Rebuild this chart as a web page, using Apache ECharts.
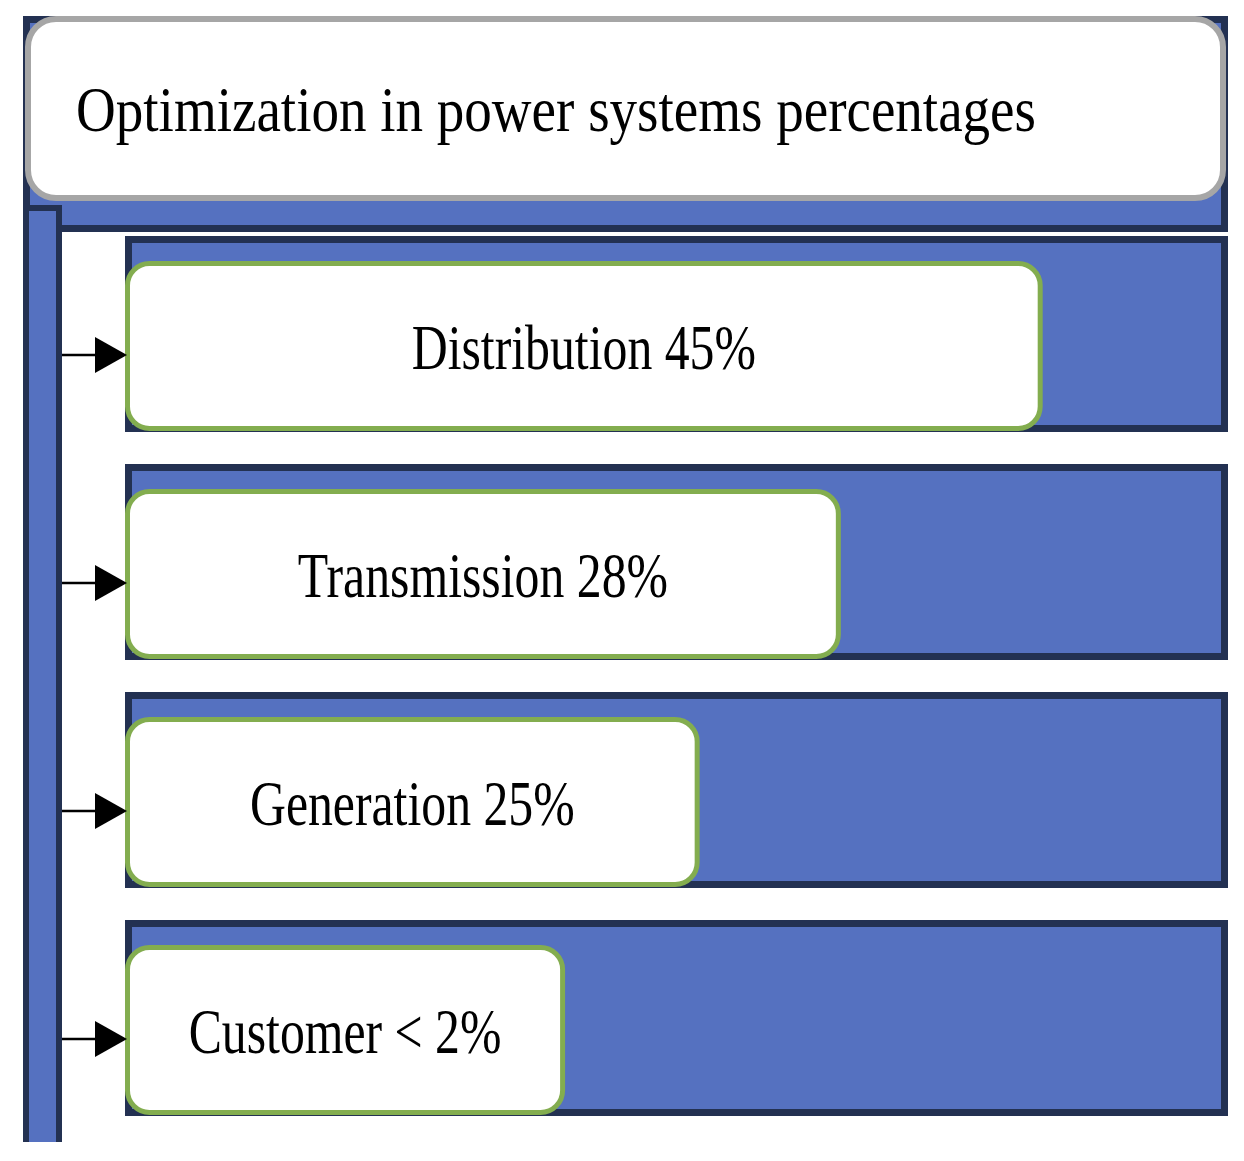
<!DOCTYPE html>
<html>
<head>
<meta charset="utf-8">
<script src="https://cdn.jsdelivr.net/npm/echarts@6/dist/echarts.min.js"></script>
<style>
  html, body { margin: 0; padding: 0; background: #fff; }
  #main { width: 1244px; height: 1161px; }
</style>
</head>
<body>
<div id="main"></div>
<script>
// rows of the diagram, top to bottom
const categories = ['Distribution', 'Transmission', 'Generation', 'Customer'];
const shareLabels = ['45%', '28%', '25%', '< 2%'];
// how far each white label box reaches across the blue bar (0-100 of the bar)
const boxLength = [83.2, 64.9, 52.1, 39.9];
const titleText = 'Optimization in power systems percentages';

const BLUE = '#5571c0';
const DARK = '#233152';
const GREEN = '#83ad4f';
const GRAY = '#a6a6a6';

const chart = echarts.init(document.getElementById('main'));

const renderRow = (params, api) => {
  const i = api.value(0);
  const len = api.value(1);
  const left = api.coord([0, i]);
  const right = api.coord([100, i]);
  const boxRight = api.coord([len, i])[0];
  const cy = left[1];
  const barH = 196;
  const top = cy - barH / 2;
  const boxTop = top + 25;
  const boxH = 170;
  const my = boxTop + boxH / 2;
  // arrows sit a little below the box middle
  const ay = my + 9;
  return {
    type: 'group',
    children: [
      {
        type: 'rect',
        shape: { x: left[0] + 3.5, y: top + 3.5, width: right[0] - left[0] - 7, height: barH - 7 },
        style: { fill: BLUE, stroke: DARK, lineWidth: 7 }
      },
      {
        type: 'rect',
        shape: { x: left[0] + 2.5, y: boxTop + 2.5, width: boxRight - left[0] - 5, height: boxH - 5, r: 22 },
        style: { fill: '#fff', stroke: GREEN, lineWidth: 5 }
      },
      {
        type: 'line',
        shape: { x1: 62, y1: ay, x2: 100, y2: ay },
        style: { stroke: '#000', lineWidth: 2.5 }
      },
      {
        type: 'polygon',
        shape: { points: [[95, ay - 18], [127, ay], [95, ay + 18]] },
        style: { fill: '#000' }
      },
      {
        type: 'text',
        x: (left[0] + boxRight) / 2,
        y: my + 6,
        scaleX: 0.79,
        style: {
          text: categories[i] + ' ' + shareLabels[i],
          font: '63px "Liberation Serif"',
          fill: '#000',
          align: 'center',
          verticalAlign: 'middle'
        }
      }
    ]
  };
};

const option = {
  animation: false,
  grid: { left: 125, right: 16, top: 220, height: 912 },
  xAxis: { type: 'value', min: 0, max: 100, show: false },
  yAxis: { type: 'category', data: categories, inverse: true, show: false },
  graphic: [
    {
      type: 'rect',
      z: 0,
      shape: { x: 26.5, y: 19.5, width: 1198, height: 209 },
      style: { fill: BLUE, stroke: DARK, lineWidth: 7 }
    },
    {
      type: 'rect',
      z: 1,
      shape: { x: 23, y: 205, width: 39, height: 937 },
      style: { fill: BLUE }
    },
    {
      type: 'polyline',
      z: 1,
      shape: { points: [[26, 1142], [26, 208], [59, 208], [59, 1142]] },
      style: { stroke: DARK, lineWidth: 6, fill: null }
    },
    {
      type: 'rect',
      z: 2,
      shape: { x: 28, y: 19, width: 1195, height: 179, r: 28 },
      style: { fill: '#fff', stroke: GRAY, lineWidth: 6 }
    },
    {
      type: 'text',
      z: 3,
      x: 556,
      y: 114,
      scaleX: 0.86,
      style: {
        text: titleText,
        font: '64px "Liberation Serif"',
        fill: '#000',
        align: 'center',
        verticalAlign: 'middle'
      }
    }
  ],
  series: [
    {
      type: 'custom',
      renderItem: renderRow,
      data: categories.map((c, i) => [i, boxLength[i]])
    }
  ]
};

chart.setOption(option);
</script>
</body>
</html>
